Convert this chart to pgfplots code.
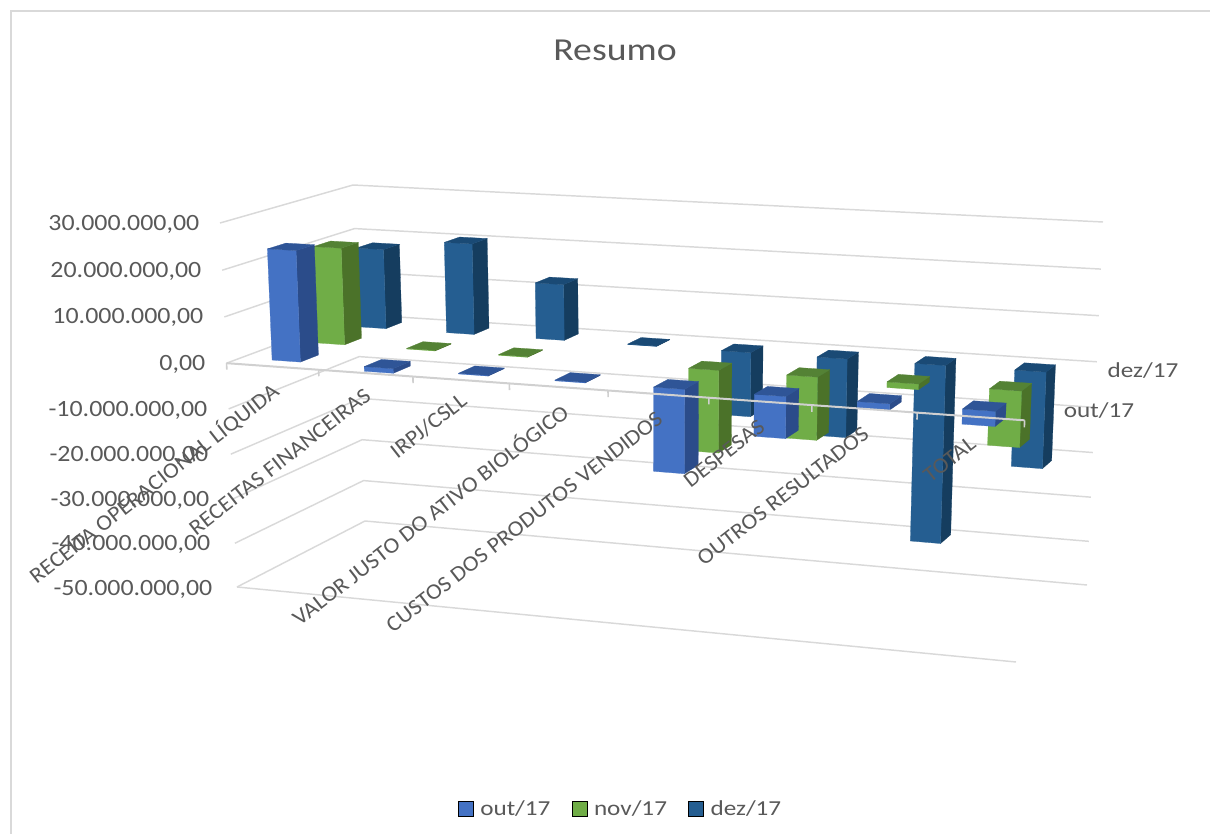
\documentclass[border=0pt]{standalone}
\usepackage{fontspec}
\usepackage{graphicx}
\usepackage{pgfplots}
\usepackage{pgfplotstable}
\pgfplotsset{compat=1.18}
\setmainfont{Carlito}

\definecolor{gridc}{HTML}{D9D9D9}
\definecolor{axisc}{HTML}{D0D0D0}
\definecolor{textc}{HTML}{595959}
\definecolor{outf}{HTML}{4472C4}
\definecolor{outs}{HTML}{2B4C8A}
\definecolor{outt}{HTML}{2F5597}
\definecolor{novf}{HTML}{70AD47}
\definecolor{novs}{HTML}{4B7229}
\definecolor{novt}{HTML}{548235}
\definecolor{dezf}{HTML}{255E91}
\definecolor{dezs}{HTML}{153D5F}
\definecolor{dezt}{HTML}{1A4A75}

% values in millions of reais
\pgfplotstableread{
cat out nov dez
1 24.0 21.4 18.0
2 -1.0 0.15 20.4
3 -0.15 0.15 12.5
4 -0.15 0 0.1
5 -17.9 -18.0 -14.3
6 -8.8 -13.6 -17.4
7 -1.3 -1.2 -39.5
8 -3.1 -11.9 -21.0
}\resumo

% the picture's 3D box: u along categories, v into depth, w the value
\newcommand\proj[4]{%
  \pgfmathsetmacro\Uc{#1-0.088*#1*(1-#1)}%
  \pgfmathsetmacro\Vc{#2+0.1*#2*(1-#2)}%
  \pgfmathsetmacro\Tc{(#3+50)/80}%
  \pgfmathsetmacro\Tc{\Tc-0.043*\Tc*(1-\Tc)}%
  \pgfmathsetmacro\Px{(1-\Vc)*((1-\Uc)*((1-\Tc)*237+\Tc*220)+\Uc*((1-\Tc)*1016+\Tc*1030))
    +\Vc*((1-\Uc)*((1-\Tc)*365+\Tc*353)+\Uc*((1-\Tc)*1087+\Tc*1103))}%
  \pgfmathsetmacro\Py{(1-\Vc)*((1-\Uc)*((1-\Tc)*587+\Tc*223)+\Uc*((1-\Tc)*662+\Tc*269))
    +\Vc*((1-\Uc)*((1-\Tc)*521+\Tc*185)+\Uc*((1-\Tc)*585+\Tc*222))}%
  \expandafter\edef\csname #4\endcsname{\Px,\Py}%
}
\newcommand\face[5]{%
  \edef\tmp{\noexpand\addplot[forget plot,fill=#1,draw=#1,line width=0.2pt]
    coordinates {(#2) (#3) (#4) (#5) (#2)};}\tmp
}
\newcommand\onebar[3]{% category, row, colour prefix; value in \val
  \pgfmathsetmacro\ua{(#1-0.50-0.155)/8}%
  \pgfmathsetmacro\ub{(#1-0.50+0.155)/8}%
  \pgfmathsetmacro\va{(#2-0.5)/3-0.0667}%
  \pgfmathsetmacro\vb{(#2-0.5)/3+0.0667}%
  \pgfmathsetmacro\hi{max(\val,0)}%
  \pgfmathsetmacro\lo{min(\val,0)}%
  \proj{\ua}{\va}{\hi}{tfl}\proj{\ub}{\va}{\hi}{tfr}%
  \proj{\ub}{\vb}{\hi}{tbr}\proj{\ua}{\vb}{\hi}{tbl}%
  \proj{\ua}{\va}{\lo}{bfl}\proj{\ub}{\va}{\lo}{bfr}\proj{\ub}{\vb}{\lo}{bbr}%
  \face{#3s}{\tfr}{\tbr}{\bbr}{\bfr}%
  \face{#3f}{\tfl}{\tfr}{\bfr}{\bfl}%
  \face{#3t}{\tfl}{\tfr}{\tbr}{\tbl}%
}
\newcommand\barrow[3]{% row, column name, colour prefix
  \pgfplotsforeachungrouped \c in {1,...,8}{%
    \pgfmathtruncatemacro\rw{\c-1}%
    \pgfplotstablegetelem{\rw}{#2}\of\resumo
    \edef\val{\pgfplotsretval}%
    \ifdim\val pt=0pt\else\onebar{\c}{#1}{#3}\fi
  }%
}
\newcommand\gridlevel[1]{%
  \proj{0}{0}{#1}{ga}\proj{0}{1}{#1}{gb}\proj{1}{1}{#1}{gc}%
  \edef\tmp{\noexpand\addplot[forget plot,gridc,line width=1.1pt]
    coordinates {(\ga) (\gb) (\gc)};}\tmp
}
\newcommand\sx[1]{\scalebox{1.18}[1]{#1}}
\newcommand\ticklab[3]{\node[anchor=east,textc,font=\fontsize{17.5}{19}\selectfont] at (axis cs:#1,#2) {\scalebox{1.11}[1]{#3}};}
\newcommand\catlab[3]{\node[anchor=east,rotate=38,inner sep=0pt,textc,font=\fontsize{16.5}{18}\selectfont] at (axis cs:#1,#2) {\scalebox{1.08}[1]{#3}};}

\begin{document}
\begin{tikzpicture}
\useasboundingbox (0,0) rectangle (907.5pt,625.5pt);
\begin{axis}[
  at={(0,0)}, anchor=south west,
  width=907.5pt, height=625.5pt,
  scale only axis,
  hide axis,
  clip=false,
  xmin=0, xmax=1210,
  ymin=0, ymax=834,
  y dir=reverse,
  legend columns=3,
  legend image code/.code={\fill[#1] (0pt,-5.6pt) rectangle (11.25pt,5.6pt);},
  legend style={at={(axis cs:621,809)},anchor=center,draw=none,fill=none,
    font=\fontsize{16}{18}\selectfont,text=textc,
    /tikz/every even column/.append style={column sep=14pt},
    /tikz/every odd column/.append style={column sep=3pt}},
]
% chart frame, left and top only
\addplot[forget plot,gridc,line width=1.9pt] coordinates {(11,834) (11,11) (1210,11)};

% walls
\pgfplotsforeachungrouped \w in {-50,-40,...,30}{\gridlevel{\w}}
\proj{0}{0}{-50}{ga}\proj{1}{0}{-50}{gb}
\edef\tmp{\noexpand\addplot[forget plot,gridc,line width=1.1pt] coordinates {(\ga) (\gb)};}\tmp

% back row first
\barrow{3}{dez}{dez}
\barrow{2}{nov}{nov}
\barrow{1}{out}{out}

% category axis at zero, over the bars
\proj{0}{0}{0}{ga}\proj{1}{0}{0}{gb}
\edef\tmp{\noexpand\addplot[forget plot,axisc,line width=1.5pt] coordinates {(\ga) (\gb)};}\tmp
\pgfplotsforeachungrouped \k in {0,...,8}{%
  \pgfmathsetmacro\uk{\k/8}%
  \proj{\uk}{0}{0}{ga}\proj{\uk}{0}{-1.4}{gb}%
  \edef\tmp{\noexpand\addplot[forget plot,axisc,line width=1.2pt] coordinates {(\ga) (\gb)};}\tmp
}

\addlegendimage{fill=outf}\addlegendentry{\sx{out/17}}
\addlegendimage{fill=novf}\addlegendentry{\sx{nov/17}}
\addlegendimage{fill=dezf}\addlegendentry{\sx{dez/17}}

\node[textc,font=\fontsize{24}{27}\selectfont] at (axis cs:615,50) {\sx{Resumo}};

\ticklab{204}{224}{30.000.000,00}
\ticklab{206}{271}{20.000.000,00}
\ticklab{208}{317}{10.000.000,00}
\ticklab{210}{364}{0,00}
\ticklab{212}{410}{-10.000.000,00}
\ticklab{213}{455}{-20.000.000,00}
\ticklab{214}{500}{-30.000.000,00}
\ticklab{215}{544}{-40.000.000,00}
\ticklab{217}{589}{-50.000.000,00}

\catlab{276}{388}{RECEITA OPERACIONAL LÍQUIDA}
\catlab{368}{393}{RECEITAS FINANCEIRAS}
\catlab{464}{398}{IRPJ/CSLL}
\catlab{565}{408}{VALOR JUSTO DO ATIVO BIOLÓGICO}
\catlab{660}{416}{CUSTOS DOS PRODUTOS VENDIDOS}
\catlab{762}{424}{DESPESAS}
\catlab{866}{431}{OUTROS RESULTADOS}
\catlab{973}{441}{TOTAL}

\node[textc,font=\fontsize{16}{18}\selectfont] at (axis cs:1143,371) {\sx{dez/17}};
\node[textc,font=\fontsize{16}{18}\selectfont] at (axis cs:1099,411) {\sx{out/17}};
\end{axis}
\end{tikzpicture}
\end{document}
